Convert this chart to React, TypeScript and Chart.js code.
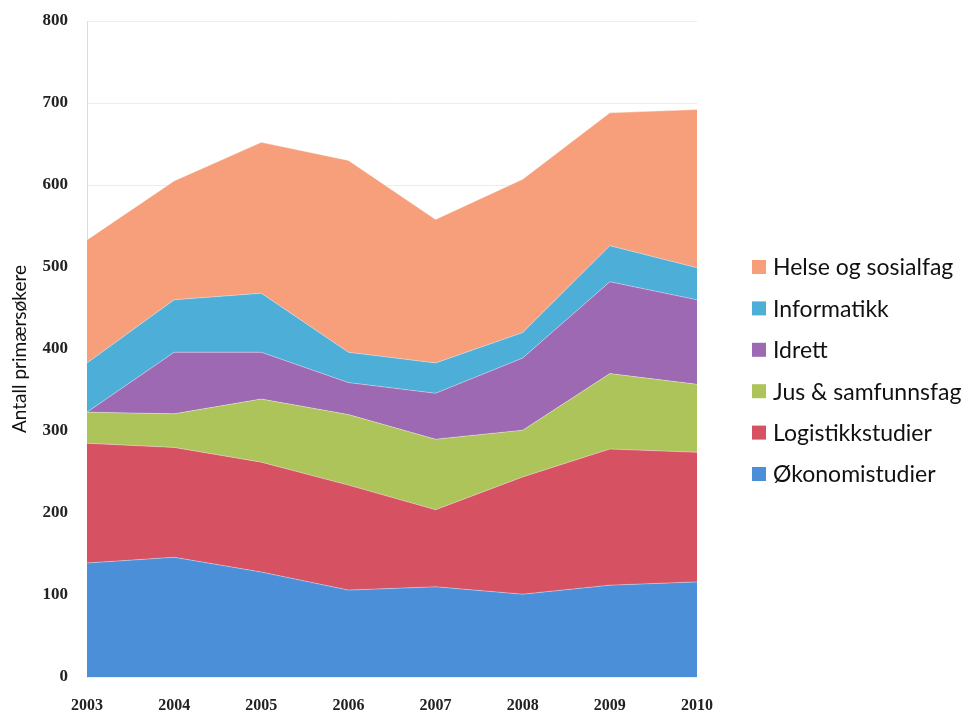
import React, { useEffect, useRef } from "react";
import { Chart, registerables } from "chart.js";

Chart.register(...registerables);

const years = ["2003", "2004", "2005", "2006", "2007", "2008", "2009", "2010"];
const yTicks = [0, 100, 200, 300, 400, 500, 600, 700, 800];

const seriesNames = [
  "Økonomistudier",
  "Logistikkstudier",
  "Jus & samfunnsfag",
  "Idrett",
  "Informatikk",
  "Helse og sosialfag",
];

const okonomi = [139, 146, 128, 106, 110, 101, 112, 116];
const logistikk = [146, 134, 134, 128, 94, 143, 166, 158];
const jus = [38, 41, 77, 86, 86, 57, 92, 83];
const idrett = [0, 75, 57, 39, 56, 88, 112, 103];
const informatikk = [60, 64, 72, 37, 37, 31, 44, 39];
const helse = [150, 145, 184, 234, 175, 187, 162, 193];

const seriesValues = [okonomi, logistikk, jus, idrett, informatikk, helse];
const seriesColors = ["#4a8fd8", "#d65263", "#adc45b", "#9c69b2", "#4daed8", "#f79f7b"];

const sideLegend = {
  id: "sideLegend",
  afterDraw(chart: any) {
    const ctx = chart.ctx;
    const area = chart.chartArea;
    const ds = chart.data.datasets;
    const n = ds.length;
    const spacing = 41.4;
    const centerY = (area.top + area.bottom) / 2 + 21.5;
    const startY = centerY - ((n - 1) / 2) * spacing;
    const boxX = area.right + 55;
    ctx.save();
    ctx.font = '23px Lato, "Open Sans", sans-serif';
    ctx.textBaseline = "middle";
    ctx.textAlign = "left";
    for (let i = 0; i < n; i++) {
      const d = ds[n - 1 - i];
      const y = startY + i * spacing;
      ctx.fillStyle = d.backgroundColor;
      ctx.fillRect(boxX, y - 7, 14, 14);
      ctx.fillStyle = "#111";
      ctx.fillText(d.label, boxX + 21, y + 1);
    }
    ctx.restore();
  },
};

export default function App() {
  const ref = useRef<HTMLCanvasElement | null>(null);

  useEffect(() => {
    if (!ref.current) return;
    const chart = new Chart(ref.current, {
      type: "line",
      data: {
        labels: years,
        datasets: seriesNames.map((name, i) => ({
          label: name,
          data: seriesValues[i],
          backgroundColor: seriesColors[i],
          borderColor: "rgba(255,255,255,0.35)",
          borderWidth: 1,
          pointRadius: 0,
          tension: 0,
          fill: i === 0 ? "origin" : "-1",
        })),
      },
      options: {
        animation: false,
        responsive: true,
        maintainAspectRatio: false,
        layout: { padding: { top: 13, right: 264, left: 0, bottom: 0 } },
        plugins: {
          legend: { display: false },
          tooltip: { enabled: false },
        },
        scales: {
          x: {
            grid: { display: false, drawTicks: false },
            border: { display: false },
            afterFit: (scale: any) => {
              scale.height = 35;
            },
            ticks: {
              color: "#222",
              padding: 19,
              maxRotation: 0,
              font: { family: '"Liberation Serif", serif', size: 16, weight: "bold" },
            },
          },
          y: {
            stacked: true,
            min: 0,
            max: 800,
            afterBuildTicks: (scale: any) => {
              scale.ticks = yTicks.map((v) => ({ value: v }));
            },
            afterFit: (scale: any) => {
              scale.width = 79;
              scale.paddingTop = 0;
              scale.paddingBottom = 0;
            },
            grid: { color: "#ececec", drawTicks: false },
            border: { display: true, color: "#dcdcdc" },
            ticks: {
              color: "#222",
              padding: 19,
              font: { family: '"Liberation Serif", serif', size: 17, weight: "bold" },
            },
            title: {
              display: true,
              text: "Antall primærsøkere",
              color: "#111",
              padding: 0,
              font: { family: 'Lato, "Open Sans", sans-serif', size: 19 },
            },
          },
        },
      },
      plugins: [sideLegend],
    });
    return () => chart.destroy();
  }, []);

  return (
    <div style={{ width: 953, height: 704, position: "relative" }}>
      <canvas ref={ref} />
    </div>
  );
}
